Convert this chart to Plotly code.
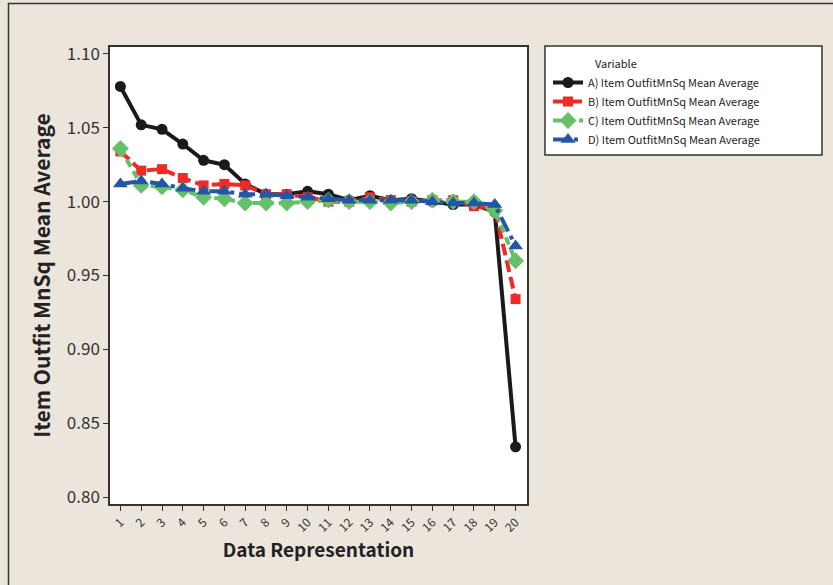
import plotly.graph_objects as go

x_vals = list(range(1, 21))
tick_labels = [str(i) for i in x_vals]

series_a = [1.078, 1.052, 1.049, 1.039, 1.028, 1.025, 1.012, 1.005, 1.005, 1.007,
            1.005, 1.001, 1.004, 1.001, 1.002, 1.000, 0.998, 0.998, 0.993, 0.834]
series_b = [1.034, 1.021, 1.022, 1.016, 1.011, 1.012, 1.011, 1.005, 1.005, 1.003,
            1.000, 1.000, 1.003, 1.001, 1.000, 1.001, 1.001, 0.997, 0.995, 0.934]
series_c = [1.036, 1.011, 1.010, 1.008, 1.003, 1.002, 0.999, 0.999, 0.999, 1.000,
            1.001, 1.000, 1.000, 0.999, 1.000, 1.001, 1.000, 1.000, 0.994, 0.960]
series_d = [1.012, 1.014, 1.012, 1.009, 1.007, 1.007, 1.005, 1.005, 1.004, 1.003,
            1.002, 1.001, 1.001, 1.001, 1.001, 1.000, 0.999, 0.999, 0.998, 0.970]
names = ["A) Item OutfitMnSq Mean Average", "B) Item OutfitMnSq Mean Average",
         "C) Item OutfitMnSq Mean Average", "D) Item OutfitMnSq Mean Average"]

FONT = "Noto Sans CJK JP"
W, H = 833, 585
L, R, T, B = 110, 306, 47, 81
pw, ph = W - L - R, H - T - B

def px_x(p):
    return (p - L) / pw

def px_y(p):
    return (H - B - p) / ph

fig = go.Figure()
styles = [
    (series_a, "#1a1a1a", "solid", "circle", 11),
    (series_b, "#ee2a2a", "12px,5px", "square", 10),
    (series_c, "#66c06a", "8px,5px", "diamond", 13),
    (series_d, "#2456a8", "16px,5px,4px,5px", "triangle-up", 13),
]
for (ys, col, dash, sym, ms), nm in zip(styles, names):
    fig.add_trace(go.Scatter(
        x=x_vals, y=ys, name=nm, mode="lines+markers",
        line=dict(color=col, width=4, dash=dash),
        marker=dict(symbol=sym, size=ms, color=col),
    ))

bg = "#ebe5db"
fig.update_layout(
    width=W, height=H,
    margin=dict(l=L, r=R, t=T, b=B, pad=0),
    paper_bgcolor=bg, plot_bgcolor="white",
    font=dict(family=FONT, color="#222"),
    showlegend=True,
    legend=dict(x=px_x(548), y=px_y(68), xanchor="left", yanchor="top",
                bgcolor="rgba(0,0,0,0)", borderwidth=0,
                font=dict(size=11, family=FONT, color="#222"),
                tracegroupgap=0, itemwidth=30),
    xaxis=dict(range=[0.5, 20.55], tickvals=x_vals, ticktext=tick_labels,
               tickangle=-45, ticks="outside", ticklen=5, tickcolor="#333",
               showline=True, linecolor="#333", linewidth=1.5, mirror=True,
               showgrid=False, zeroline=False,
               tickfont=dict(size=12, family=FONT, color="#333"),
               title=dict(text="<b>Data Representation</b>", font=dict(size=19, family=FONT, color="#222"),
                          standoff=9)),
    yaxis=dict(range=[0.7953, 1.1047], tickvals=[0.80, 0.85, 0.90, 0.95, 1.00, 1.05, 1.10],
               tickformat=".2f", ticks="outside", ticklen=5, tickcolor="#333",
               showline=True, linecolor="#333", linewidth=1.5, mirror=True,
               showgrid=False, zeroline=False,
               tickfont=dict(size=17, family=FONT, color="#333"),
               title=dict(text="<b>Item Outfit MnSq Mean Average</b>", font=dict(size=21, family=FONT, color="#222"),
                          standoff=10)),
    shapes=[
        dict(type="rect", xref="paper", yref="paper",
             x0=px_x(8.5), x1=px_x(845), y0=px_y(595), y1=px_y(3.5),
             line=dict(color="#333", width=1.5), fillcolor="rgba(0,0,0,0)", layer="below"),
        dict(type="rect", xref="paper", yref="paper",
             x0=px_x(545), x1=px_x(822), y0=px_y(155), y1=px_y(46),
             line=dict(color="#333", width=1.5), fillcolor="white", layer="below"),
    ],
    annotations=[
        dict(text="Variable", xref="paper", yref="paper", x=px_x(593), y=px_y(63),
             xanchor="left", yanchor="middle", showarrow=False,
             font=dict(size=11, family=FONT, color="#222")),
    ],
)

fig.write_html("out.html", config={"displayModeBar": False},
               post_script="document.body.style.margin='0';document.body.style.background='%s';" % bg)
